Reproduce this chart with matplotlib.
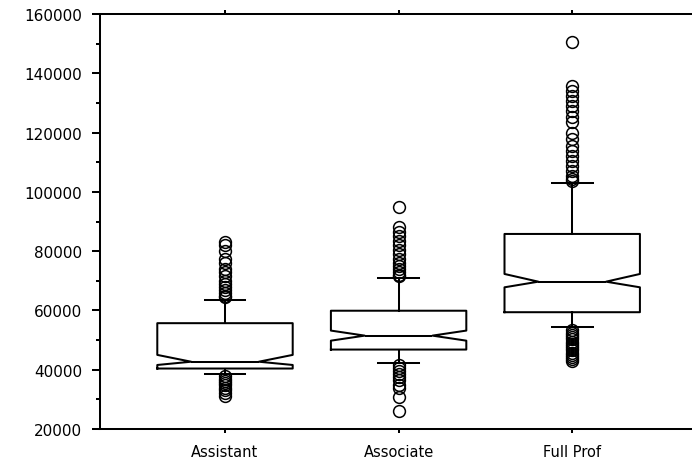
import matplotlib
matplotlib.use("Agg")
import matplotlib.pyplot as plt
from matplotlib.ticker import MultipleLocator

# Salary by academic rank
RANKS = ["Assistant", "Associate", "Full Prof"]

Q1 = [40400, 46800, 59400]
MEDIAN = [42700, 51500, 69700]
Q3 = [55700, 59900, 85800]
CI_LO = [41600, 49800, 67800]
CI_HI = [45000, 53200, 72300]
WHISK_LO = [38600, 42300, 54500]
WHISK_HI = [63600, 70800, 102900]

FLIERS_ASSISTANT = [83000, 82000, 80000, 77500, 76000, 74000, 73000, 71500,
                    70000, 69000, 68000, 67000, 66000, 65000, 64500,
                    37800, 37000, 36200, 35500, 34800, 34000, 33000, 32000, 31000]
FLIERS_ASSOCIATE = [94800, 88000, 86500, 85000, 83500, 82000, 80500, 79000,
                    77500, 76000, 75000, 74000, 73000, 72000, 71500,
                    41500, 40500, 39500, 38500, 37500, 36500, 35000, 34000,
                    30800, 26000]
FLIERS_FULL = [150500, 135800, 134100, 132400, 130700, 129000, 127400, 125100,
               123400, 120000, 117800, 115600, 113900, 112200, 110500, 108800,
               107100, 105400, 104500, 103800,
               53500, 52500, 51800, 51000, 50200, 49500, 48800, 48000, 47200,
               46500, 45800, 45000, 44300, 43500, 43000]
FLIERS = [FLIERS_ASSISTANT, FLIERS_ASSOCIATE, FLIERS_FULL]

Y_TICKS = [20000, 40000, 60000, 80000, 100000, 120000, 140000, 160000]

stats = []
for i, rank in enumerate(RANKS):
    stats.append({
        "label": rank,
        "q1": Q1[i], "med": MEDIAN[i], "q3": Q3[i],
        "cilo": CI_LO[i], "cihi": CI_HI[i],
        "whislo": WHISK_LO[i], "whishi": WHISK_HI[i],
        "fliers": FLIERS[i],
    })

fig = plt.figure(figsize=(6.92, 4.64), dpi=100)
ax = fig.add_axes([100 / 692, 1 - 430 / 464, 1 - 100 / 692, 415 / 464])

lw = 1.45
ax.bxp(stats, positions=range(len(RANKS)), widths=0.78, capwidths=0.235,
       shownotches=True,
       boxprops=dict(color="black", linewidth=lw),
       medianprops=dict(color="black", linewidth=lw),
       whiskerprops=dict(color="black", linewidth=lw),
       capprops=dict(color="black", linewidth=lw),
       flierprops=dict(marker="o", markerfacecolor="none",
                       markeredgecolor="black", markersize=8.5,
                       markeredgewidth=1.1))

ax.set_xlim(-0.72, 2.69)
ax.set_ylim(20000, 160000)
ax.set_yticks(Y_TICKS)
ax.set_yticklabels([str(v) for v in Y_TICKS])
ax.yaxis.set_minor_locator(MultipleLocator(10000))

ax.spines["right"].set_visible(False)
for side in ["left", "top", "bottom"]:
    ax.spines[side].set_linewidth(lw)

ax.tick_params(axis="y", which="major", length=6, width=lw, labelsize=11, pad=7)
ax.tick_params(axis="y", which="minor", length=3, width=lw)
ax.tick_params(axis="x", length=3, width=lw, labelsize=10.5, pad=8,
               top=True, labeltop=False)

fig.savefig("out.png", dpi=100)
